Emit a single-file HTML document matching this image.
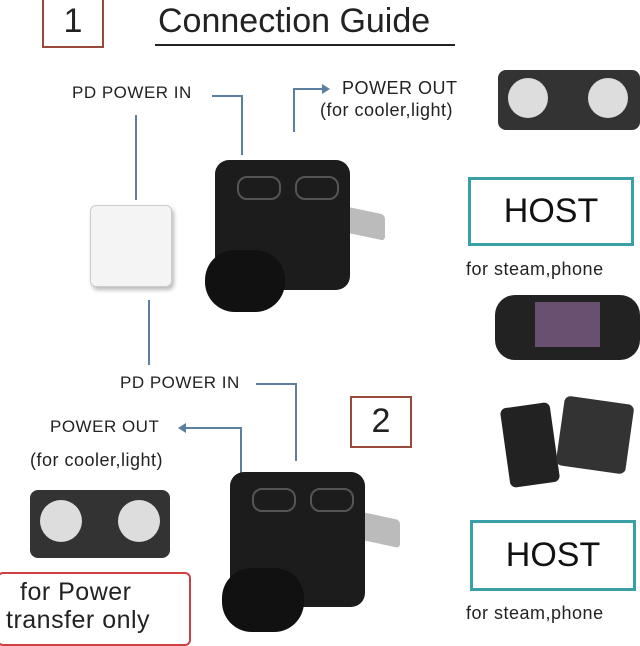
<!DOCTYPE html>
<html><head><meta charset="utf-8"><style>
body{margin:0;width:640px;height:637px;background:#fff;position:relative;overflow:hidden;font-family:"Liberation Sans",sans-serif;color:#222}
.a{position:absolute}
.t{position:absolute;white-space:nowrap;font-size:17px;letter-spacing:0.5px}
.ln{position:absolute;background:#5a7fa0}
.box{position:absolute;border:2px solid #9a4a3a;background:#fff}
.host{position:absolute;border:3px solid #3aa0a8;font-size:34px;text-align:center;color:#111}
</style></head><body>
<div class="box" style="left:42px;top:-4px;width:58px;height:48px;font-size:34px;text-align:center;line-height:46px">1</div>
<div class="t" style="left:158px;top:2px;font-size:34px;letter-spacing:0">Connection Guide</div>
<div class="a" style="left:155px;top:44px;width:300px;height:2px;background:#222"></div>

<div class="t" style="left:72px;top:83px">PD POWER IN</div>
<div class="ln" style="left:212px;top:95px;width:30px;height:1.5px"></div>
<div class="ln" style="left:241px;top:95px;width:1.5px;height:60px"></div>
<div class="ln" style="left:135px;top:115px;width:1.5px;height:85px"></div>
<div class="t" style="left:342px;top:78px;font-size:18px">POWER OUT</div>
<div class="t" style="left:320px;top:100px;font-size:18px">(for cooler,light)</div>
<div class="ln" style="left:293px;top:88px;width:1.5px;height:44px"></div>
<div class="ln" style="left:293px;top:88px;width:34px;height:1.5px"></div>
<div class="a" style="left:322px;top:84px;width:0;height:0;border-left:8px solid #5a7fa0;border-top:5px solid transparent;border-bottom:5px solid transparent"></div>

<div class="a" style="left:498px;top:70px;width:142px;height:60px;background:#333;border-radius:8px"></div>
<div class="a" style="left:508px;top:78px;width:40px;height:40px;background:#ddd;border-radius:50%"></div>
<div class="a" style="left:588px;top:78px;width:40px;height:40px;background:#ddd;border-radius:50%"></div>

<div class="a" style="left:90px;top:205px;width:80px;height:80px;background:#f4f4f4;border:1px solid #ccc;border-radius:6px;box-shadow:2px 3px 4px #bbb"></div>

<div class="a" style="left:340px;top:210px;width:45px;height:26px;background:#bbb;border-radius:4px;transform:skewY(12deg)"></div>
<div class="a" style="left:215px;top:160px;width:135px;height:130px;background:#1c1c1c;border-radius:14px"></div>
<div class="a" style="left:205px;top:250px;width:80px;height:62px;background:#111;border-radius:30px"></div>
<div class="a" style="left:237px;top:176px;width:40px;height:20px;border:2px solid #555;border-radius:10px"></div>
<div class="a" style="left:295px;top:176px;width:40px;height:20px;border:2px solid #555;border-radius:10px"></div>

<div class="ln" style="left:148px;top:300px;width:1.5px;height:65px"></div>
<div class="t" style="left:120px;top:373px">PD POWER IN</div>
<div class="ln" style="left:256px;top:383px;width:40px;height:1.5px"></div>
<div class="ln" style="left:295px;top:383px;width:1.5px;height:78px"></div>

<div class="host" style="left:468px;top:177px;width:160px;height:63px;line-height:63px">HOST</div>
<div class="t" style="left:466px;top:259px;font-size:18px">for steam,phone</div>
<div class="a" style="left:495px;top:295px;width:145px;height:65px;background:#222;border-radius:20px"></div>
<div class="a" style="left:535px;top:302px;width:65px;height:45px;background:#6a5070"></div>

<div class="box" style="left:350px;top:396px;width:58px;height:48px;font-size:34px;text-align:center;line-height:46px">2</div>
<div class="t" style="left:50px;top:417px">POWER OUT</div>
<div class="t" style="left:30px;top:450px;font-size:18px">(for cooler,light)</div>
<div class="ln" style="left:240px;top:427px;width:1.5px;height:50px"></div>
<div class="ln" style="left:185px;top:427px;width:56px;height:1.5px"></div>
<div class="a" style="left:178px;top:423px;width:0;height:0;border-right:8px solid #5a7fa0;border-top:5px solid transparent;border-bottom:5px solid transparent"></div>

<div class="a" style="left:30px;top:490px;width:140px;height:68px;background:#333;border-radius:8px"></div>
<div class="a" style="left:40px;top:500px;width:42px;height:42px;background:#ddd;border-radius:50%"></div>
<div class="a" style="left:118px;top:500px;width:42px;height:42px;background:#ddd;border-radius:50%"></div>

<div class="a" style="left:505px;top:405px;width:50px;height:80px;background:#222;border-radius:6px;transform:rotate(-8deg)"></div>
<div class="a" style="left:560px;top:400px;width:70px;height:70px;background:#333;border-radius:6px;transform:rotate(8deg)"></div>

<div class="a" style="left:352px;top:515px;width:48px;height:28px;background:#bbb;border-radius:4px;transform:skewY(12deg)"></div>
<div class="a" style="left:230px;top:472px;width:135px;height:135px;background:#1c1c1c;border-radius:14px"></div>
<div class="a" style="left:222px;top:568px;width:82px;height:64px;background:#111;border-radius:30px"></div>
<div class="a" style="left:252px;top:488px;width:40px;height:20px;border:2px solid #555;border-radius:10px"></div>
<div class="a" style="left:310px;top:488px;width:40px;height:20px;border:2px solid #555;border-radius:10px"></div>

<div class="host" style="left:470px;top:520px;width:160px;height:65px;line-height:65px">HOST</div>
<div class="t" style="left:466px;top:603px;font-size:18px">for steam,phone</div>

<div class="a" style="left:-3px;top:572px;width:190px;height:70px;border:2px solid #d04040;border-radius:6px;background:#fff"></div>
<div class="t" style="left:20px;top:578px;font-size:25px">for Power</div>
<div class="t" style="left:6px;top:606px;font-size:25px">transfer only</div>
</body></html>
